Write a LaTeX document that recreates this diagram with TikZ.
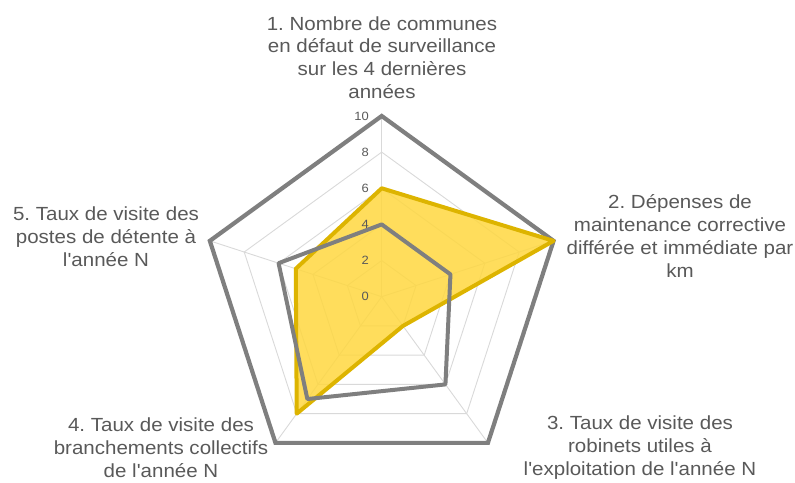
\documentclass[tikz,border=0pt]{standalone}
\usepackage{fontspec}
\setmainfont{Liberation Sans}[FakeStretch=1.08, Ligatures=TeXOff]
\usepackage{tikz}
\frenchspacing

\definecolor{txtgray}{HTML}{595959}
\definecolor{gridgray}{HTML}{D9D9D9}
\definecolor{framegray}{HTML}{7F7F7F}
\definecolor{goldfill}{HTML}{FFD740}
\definecolor{goldline}{HTML}{DDB400}

\tikzset{
    gridline/.style={draw=gridgray, line width=0.9pt},
    frame/.style={draw=framegray, line width=4.2pt},
    serieA/.style={draw=goldline, line width=4pt, fill=goldfill, fill opacity=0.85, line join=round},
    serieB/.style={draw=framegray, line width=4pt, line join=round},
    axislabel/.style={text=txtgray, align=center, inner sep=0pt, font=\fontsize{19}{22.8}\selectfont},
    tick/.style={text=txtgray, anchor=east, inner sep=0pt, font=\fontsize{12}{14}\selectfont}
}

\begin{document}
\begin{tikzpicture}[x=1pt, y=1pt]
            \useasboundingbox (0,0) rectangle (795,482);

            \begin{scope}[shift={(381.7,185.3)}, x=18.07pt, y=18.07pt]
                \coordinate (o) at (0,0);
                \coordinate (a1) at (90:10);
                \coordinate (a2) at (18:10);
                \coordinate (a3) at (-54:10);
                \coordinate (a4) at (-126:10);
                \coordinate (a5) at (162:10);

                \draw[gridline] (90:2) -- (18:2) -- (-54:2) -- (-126:2) -- (162:2) -- cycle;
                \draw[gridline] (90:4) -- (18:4) -- (-54:4) -- (-126:4) -- (162:4) -- cycle;
                \draw[gridline] (90:6) -- (18:6) -- (-54:6) -- (-126:6) -- (162:6) -- cycle;
                \draw[gridline] (90:8) -- (18:8) -- (-54:8) -- (-126:8) -- (162:8) -- cycle;

                \draw[gridline] (o) -- (a1);
                \draw[gridline] (o) -- (a2);
                \draw[gridline] (o) -- (a3);
                \draw[gridline] (o) -- (a4);
                \draw[gridline] (o) -- (a5);

                \draw[frame] (a1) -- (a2) -- (a3) -- (a4) -- (a5) -- cycle;

                \draw[serieA] (90:6) -- (18:10) -- (-54:2) -- (-126:8) -- (162:5) -- cycle;
                \draw[serieB] (90:4) -- (18:4) -- (-54:6) -- (-126:7) -- (162:6) -- cycle;

                \node[tick] (t0) at (-0.7,0) {0};
                \node[tick] (t2) at (-0.7,2) {2};
                \node[tick] (t4) at (-0.7,4) {4};
                \node[tick] (t6) at (-0.7,6) {6};
                \node[tick] (t8) at (-0.7,8) {8};
                \node[tick] (t10) at (-0.7,10) {10};
            \end{scope}

            \node[axislabel] (l1) at (382,424.5) {1. Nombre de communes\\en défaut de surveillance\\sur les 4 dernières\\années};
            \node[axislabel] (l2) at (680,246) {2. Dépenses de\\maintenance corrective\\différée et immédiate par\\km};
            \node[axislabel] (l3) at (640,34.3) {3. Taux de visite des\\robinets utiles à\\l'exploitation de l'année N};
            \node[axislabel] (l4) at (161,34.3) {4. Taux de visite des\\branchements collectifs\\de l'année N};
            \node[axislabel] (l5) at (106,245) {5. Taux de visite des\\postes de détente à\\l'année N};
        \end{tikzpicture}
\end{document}
